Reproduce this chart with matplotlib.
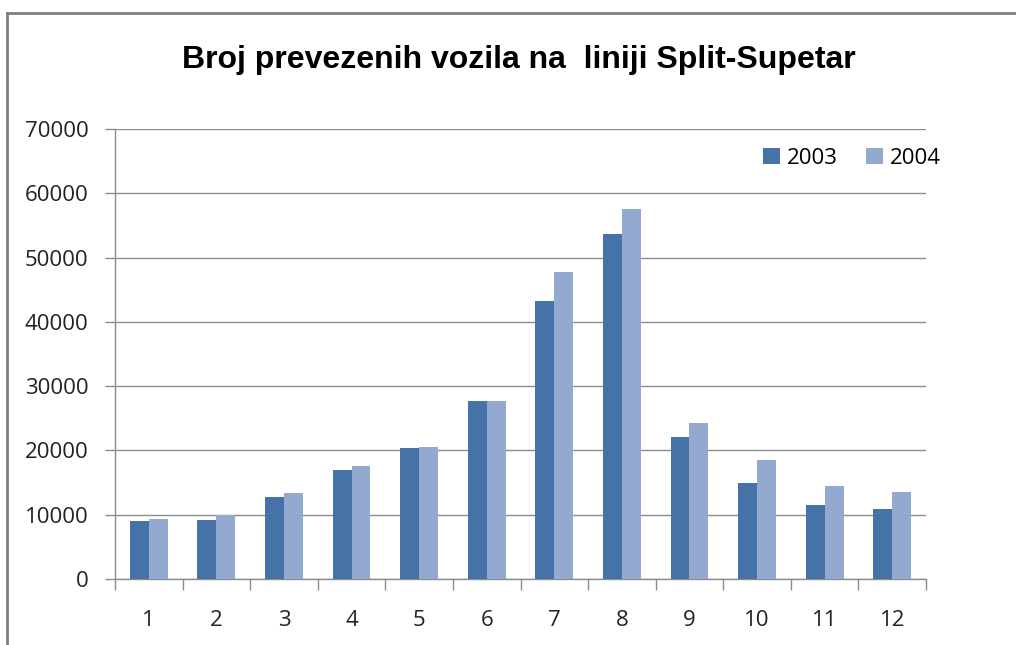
import matplotlib.pyplot as plt
import numpy as np
from matplotlib.lines import Line2D

# monthly vehicle counts, Split-Supetar line
months = ['1', '2', '3', '4', '5', '6', '7', '8', '9', '10', '11', '12']
vehicles_2003 = [9100, 9200, 12800, 17000, 20400, 27700, 43200, 53700, 22100, 15000, 11550, 10900]
vehicles_2004 = [9400, 9900, 13400, 17600, 20600, 27700, 47800, 57600, 24200, 18550, 14400, 13500]
series_labels = ['2003', '2004']
title = 'Broj prevezenih vozila na  liniji Split-Supetar'

c2003 = '#4572A7'
c2004 = '#93A9CF'
grid_col = '#8c8c8c'

plt.rcParams['font.family'] = ['Open Sans', 'DejaVu Sans']

W, H = 1016, 645
fig = plt.figure(figsize=(W / 100, H / 100), dpi=100)
ax = fig.add_axes([115 / W, 1 - 579 / H, (926 - 115) / W, (579 - 129) / H])

x = np.arange(len(months))
bw = 0.28
ax.bar(x - bw / 2, vehicles_2003, bw, color=c2003, label=series_labels[0], zorder=3)
ax.bar(x + bw / 2, vehicles_2004, bw, color=c2004, label=series_labels[1], zorder=3)

ax.set_xlim(-0.5, len(months) - 0.5)
ax.set_ylim(0, 70000)
ax.set_yticks(np.arange(0, 70001, 10000))
ax.set_yticklabels([str(v) for v in range(0, 70001, 10000)], fontsize=16, color='#222222')
ax.set_xticks(x)
ax.set_xticklabels(months, fontsize=16, color='#222222')
ax.set_xticks(np.arange(-0.5, len(months), 1), minor=True)

ax.tick_params(axis='x', which='major', length=0, pad=22)
ax.tick_params(axis='x', which='minor', length=8, color=grid_col, width=1)
ax.tick_params(axis='y', length=7, color=grid_col, width=1, pad=12)

ax.yaxis.grid(True, color=grid_col, linewidth=1, zorder=0)
for s in ['top', 'right']:
    ax.spines[s].set_visible(False)
for s in ['left', 'bottom']:
    ax.spines[s].set_color(grid_col)
    ax.spines[s].set_linewidth(1)

fig.legend(*ax.get_legend_handles_labels(), loc='center left',
           bbox_to_anchor=(752 / W, 1 - 158 / H), bbox_transform=fig.transFigure,
           ncol=2, frameon=False, borderpad=0, fontsize=16,
           handlelength=0.75, handleheight=0.75, handletextpad=0.3,
           columnspacing=1.3)

fig.text(519 / W, 1 - 60 / H, title, ha='center', va='center',
         fontsize=23, fontweight='bold', family=['Liberation Sans'])

# outer chart frame (only top and left edges are visible)
fig.add_artist(Line2D([7 / W, 1], [1 - 13 / H, 1 - 13 / H], color='#7f7f7f', linewidth=2))
fig.add_artist(Line2D([7 / W, 7 / W], [0, 1 - 13 / H], color='#7f7f7f', linewidth=2))

fig.savefig('out.png', dpi=100)
